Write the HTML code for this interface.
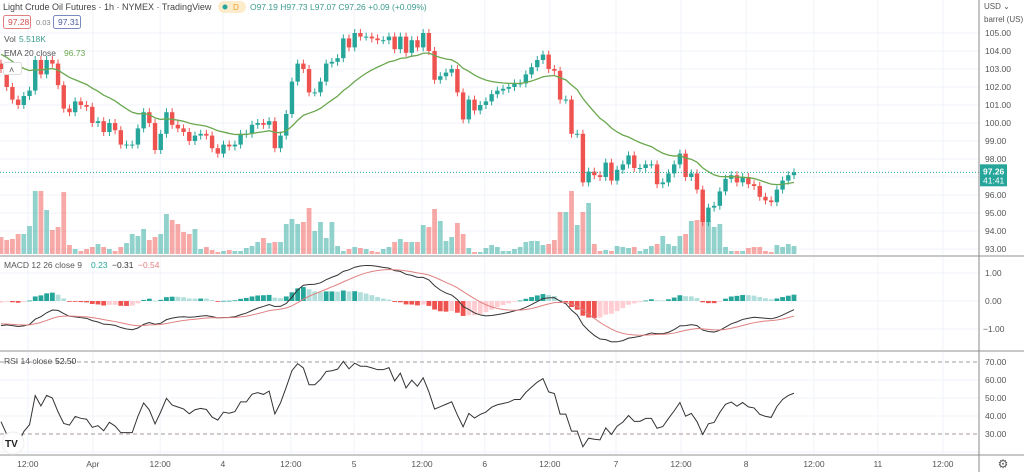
<!DOCTYPE html>
<html><head><meta charset="utf-8"><style>
html,body{margin:0;padding:0;background:#fff;width:1024px;height:472px;overflow:hidden;font-family:"Liberation Sans",sans-serif}
svg text{font-family:"Liberation Sans",sans-serif}
</style></head><body>
<svg id="c" width="1024" height="472" viewBox="0 0 1024 472"></svg>
<script>
const closes=[103.0,102.0,101.3,101.0,101.5,101.8,103.5,102.7,103.5,103.3,102.1,100.8,100.6,101.2,101.0,100.9,100.0,100.1,99.5,100.0,99.6,98.8,98.8,98.8,99.7,100.6,100.0,98.5,99.4,100.6,99.9,99.7,99.5,99.0,99.3,99.4,99.3,98.6,98.3,98.8,98.7,98.8,99.4,99.4,99.9,100.0,99.9,100.1,98.6,99.3,100.5,102.3,103.3,
103.0,101.7,101.7,102.3,103.3,103.4,103.6,104.7,104.2,105.0,104.8,104.8,104.7,104.6,104.6,104.8,104.1,104.8,103.9,104.6,104.2,105.0,104.0,102.4,102.6,102.8,103.0,101.7,100.2,101.3,100.7,101.0,101.2,101.6,101.8,101.9,102.0,102.2,102.2,102.7,103.1,103.5,103.8,103.0,102.9,
101.3,101.3,99.4,99.4,96.7,97.3,97.1,97.0,97.8,96.8,97.4,97.7,98.2,97.5,97.5,97.7,97.7,96.6,96.7,97.2,97.7,98.3,97.0,97.2,96.3,94.5,95.3,95.4,96.2,96.9,97.1,96.7,97.0,96.6,96.5,95.9,95.7,95.6,96.3,96.8,97.1,97.26];
const firstOpen=103.3;
const volumes=[17,14,15,20,20,28,63,63,44,24,27,62,9,5,3,5,7,10,7,5,3,7,11,20,18,25,14,17,20,40,34,30,22,20,25,5,7,4,2,3,4,3,3,6,8,12,16,11,12,12,30,35,30,
32,46,23,32,16,32,8,3,5,7,6,5,3,2,5,7,12,15,12,12,12,29,27,45,33,13,17,31,20,6,2,2,6,9,7,3,3,5,7,12,13,13,9,10,14,
42,42,63,29,42,51,10,3,4,3,8,7,6,7,3,5,8,10,18,10,8,18,20,33,34,38,33,27,30,7,3,3,3,6,7,7,3,2,9,7,10,8];
const priceTicks=[105,104,103,102,101,100,99,98,96,95,94,93];
const macdTicks=[1,0,-1];
const rsiTicks=[70,60,50,40,30];
const timeLabels=["12:00","Apr","12:00","4","12:00","5","12:00","6","12:00","7","12:00","8","12:00","11","12:00"];
const timeBars=[4.7,16.1,27.9,38.9,50.8,61.9,73.8,84.8,96.2,107.8,119.2,130.6,142.5,153.7,165.1];
const emaSeed=103.9, ema12Seed=102.4, ema26Seed=103.4, signalSeed=-0.8;
const rsiGainSeed=0.13, rsiLossSeed=0.2;

const NS="http://www.w3.org/2000/svg", svg=document.getElementById('c');
function el(t,a,p){const e=document.createElementNS(NS,t);for(const k in a)e.setAttribute(k,a[k]);(p||svg).appendChild(e);return e;}
const step=5.705, X=i=>1+i*step;
const PY=p=>33+(105-p)*18;
const MY=v=>301-v*28;
const RY=v=>362+(70-v)*1.8;
const VB=254, VMAX=Math.max(...volumes);
const up='#26a69a', dn='#ef5350';

const g=el('g',{});

timeBars.forEach(b=>{el('line',{x1:X(b),x2:X(b),y1:0,y2:455,stroke:'#f0f3fa','stroke-width':1},g);});
priceTicks.concat([97]).forEach(p=>el('line',{x1:0,x2:979,y1:PY(p),y2:PY(p),stroke:'#f0f3fa'},g));
macdTicks.forEach(v=>el('line',{x1:0,x2:979,y1:MY(v),y2:MY(v),stroke:'#f0f3fa'},g));
[60,50,40,20].forEach(v=>el('line',{x1:0,x2:979,y1:RY(v),y2:RY(v),stroke:'#f0f3fa'},g));

const vg=el('g',{});
let opens=closes.map((c,i)=>i?closes[i-1]:firstOpen);
volumes.forEach((v,i)=>{const h=v/VMAX*63;const u=closes[i]>=opens[i];
 const r=el('rect',{x:X(i)-2.4,y:VB-h,width:4.8,height:h,fill:u?'#26a69a':'#ef5350','fill-opacity':0.5},vg);
 });

const cg=el('g',{});
closes.forEach((c,i)=>{const o=opens[i],u=c>=o,col=u?up:dn;const t=PY(Math.max(o,c)),b=PY(Math.min(o,c));
 el('line',{x1:X(i),x2:X(i),y1:t-4,y2:b+4,stroke:col,'stroke-width':1},cg);
 const r=el('rect',{x:X(i)-2.2,y:t,width:4.4,height:Math.max(1,b-t),fill:col},cg);
 });

let e=emaSeed,ema=[];const k20=2/21;closes.forEach(c=>{e=c*k20+e*(1-k20);ema.push(e);});
const ep=el('polyline',{points:ema.map((v,i)=>X(i)+','+PY(v)).join(' '),fill:'none',stroke:'#6aa84f','stroke-width':1.3});


el('line',{x1:0,x2:979,y1:PY(97.26),y2:PY(97.26),stroke:up,'stroke-dasharray':'1,2','stroke-width':1});

let e12=ema12Seed,e26=ema26Seed,sg=signalSeed,macd=[],sig=[];
closes.forEach(c=>{e12=c*2/13+e12*11/13;e26=c*2/27+e26*25/27;const m=e12-e26;sg=m*0.2+sg*0.8;macd.push(m);sig.push(sg);});
const mg=el('g',{});
macd.forEach((m,i)=>{const h=m-sig[i],ph=i?macd[i-1]-sig[i-1]:h;let col;
 if(h>=0)col=h>=ph?'#26a69a':'#b2dfdb';else col=h<ph?'#ef5350':'#ffcdd2';
 const y1=MY(Math.max(h,0)),y2=MY(Math.min(h,0));
 const r=el('rect',{x:X(i)-2.4,y:y1,width:4.8,height:Math.max(0.8,y2-y1),fill:col},mg);
 });
const ml=el('polyline',{points:macd.map((v,i)=>X(i)+','+MY(v)).join(' '),fill:'none',stroke:'#333','stroke-width':1});

const sl=el('polyline',{points:sig.map((v,i)=>X(i)+','+MY(v)).join(' '),fill:'none',stroke:'#e08080','stroke-width':1});


let ag=rsiGainSeed,al=rsiLossSeed,rsi=[];
closes.forEach((c,i)=>{const d=i?c-closes[i-1]:c-firstOpen;ag=(ag*13+Math.max(d,0))/14;al=(al*13+Math.max(-d,0))/14;
 rsi.push(100-100/(1+ag/(al||1e-9)));});
el('line',{x1:0,x2:979,y1:RY(70),y2:RY(70),stroke:'#9e9e9e','stroke-dasharray':'4,3'});
el('line',{x1:0,x2:979,y1:RY(30),y2:RY(30),stroke:'#a89898','stroke-dasharray':'4,3'});
const rl=el('polyline',{points:rsi.map((v,i)=>X(i)+','+RY(v)).join(' '),fill:'none',stroke:'#333','stroke-width':1});


[256,351,455].forEach(y=>el('line',{x1:0,x2:1024,y1:y,y2:y,stroke:'#c8c8c8','stroke-width':2}));
el('line',{x1:979,x2:979,y1:0,y2:472,stroke:'#888','stroke-width':1});

function txt(s,x,y,a){const t=el('text',Object.assign({x:x,y:y,'font-size':8.5,fill:'#555'},a||{}));t.textContent=s;return t;}
priceTicks.forEach(p=>{const t=txt(p.toFixed(2),985,PY(p)+3);});
macdTicks.forEach(v=>{const t=txt((v<0?'\u22121.00':v.toFixed(2)),v<0?983:985,MY(v)+3);});
rsiTicks.forEach(v=>{const t=txt(v.toFixed(2),985,RY(v)+3);});
const pb=el('rect',{x:980,y:PY(97.26)-8,width:27,height:22,fill:up});

txt('97.26',983,PY(97.26)+2,{fill:'#fff','font-weight':'bold'});txt('41:41',983,PY(97.26)+11,{fill:'#fff'});
const u1=txt('USD \u2304',984,9,{'font-size':8});
const u2=txt('barrel (US) \u25BE',984,22,{'font-size':8});
timeLabels.forEach((s,i)=>{const t=txt(s,X(timeBars[i]),467,{'text-anchor':'middle'});});
const gear=el('text',{x:1003,y:468,'font-size':12,fill:'#555','text-anchor':'middle'});gear.textContent='\u2699';


const h=txt('Light Crude Oil Futures \u00B7 1h \u00B7 NYMEX \u00B7 TradingView',3,10,{'font-size':9,fill:'#444'});

el('rect',{x:218,y:1,width:28,height:12,rx:6,fill:'#fdeccc'});el('circle',{cx:225,cy:7,r:2.5,fill:'#26a69a'});
txt('D',233,10,{'font-size':8,fill:'#f0a030'});
const ohlc=txt('O97.19 H97.73 L97.07 C97.26 +0.09 (+0.09%)',250,10,{'font-size':8.5,fill:'#3d9c8f'});

const b1=el('rect',{x:3.5,y:15.5,width:27,height:13,rx:2,fill:'#fff',stroke:'#e08080'});
txt('97.28',8,25,{fill:'#d05050'});txt('0.03',36,25,{'font-size':7.5,fill:'#888'});
const b2=el('rect',{x:53.5,y:15.5,width:27,height:13,rx:2,fill:'#fff',stroke:'#7a8ac0'});
txt('97.31',58,25,{fill:'#4a5aa0'});
const vl=txt('Vol',4,42);
txt('5.518K',19,42,{fill:'#3d9c8f'});
const el2=txt('EMA 20 close',4,56);
txt('96.73',64,56,{fill:'#6aa84f'});
el('rect',{x:3.5,y:62.5,width:18,height:12,rx:2,fill:'#fff',stroke:'#ddd'});txt('\u02C4',9,73,{'font-size':9});
const mlg=txt('MACD 12 26 close 9',4,268);
txt('0.23',91,268,{fill:'#26a69a'});txt('\u22120.31',112,268,{fill:'#333'});txt('\u22120.54',138,268,{fill:'#e08080'});
const rlg=txt('RSI 14 close',4,364);
txt('52.50',55,364,{fill:'#333'});
el('circle',{cx:13,cy:443,r:11,fill:'#fff',stroke:'#eee'});txt('TV',5,447,{'font-size':10,'font-weight':'bold',fill:'#222'});
</script>
</body></html>
